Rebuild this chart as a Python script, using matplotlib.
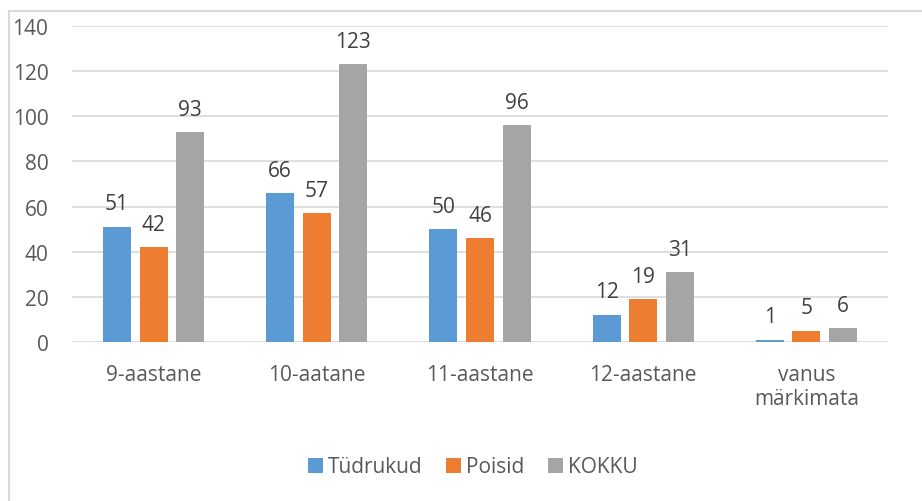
import matplotlib
matplotlib.use("Agg")
import matplotlib.pyplot as plt
from matplotlib.lines import Line2D
from matplotlib.patches import Patch
import numpy as np

categories = ["9-aastane", "10-aatane", "11-aastane", "12-aastane", "vanus\nmärkimata"]
series_names = ["Tüdrukud", "Poisid", "KOKKU"]
tudrukud = [51, 66, 50, 12, 1]
poisid = [42, 57, 46, 19, 5]
kokku = [93, 123, 96, 31, 6]
yticks = [0, 20, 40, 60, 80, 100, 120, 140]

colors = ["#5B9BD5", "#ED7D31", "#A5A5A5"]
text_color = "#595959"
plt.rcParams['font.family'] = ['Open Sans', 'DejaVu Sans']

W, H = 922, 502
fig = plt.figure(figsize=(W / 100, H / 100), dpi=100)
ax = fig.add_axes([72 / W, 1 - 343 / H, (888 - 72) / W, (343 - 27) / H])

x = np.arange(len(categories))
bw = 0.172
step = 0.224
for i, (vals, c) in enumerate(zip([tudrukud, poisid, kokku], colors)):
    pos = x + (i - 1) * step
    ax.bar(pos, vals, width=bw, color=c, zorder=3)
    for p, v in zip(pos, vals):
        ax.text(p, v + 5.5, str(v), ha="center", va="bottom", fontsize=15, color="#404040")

ax.set_xlim(-0.5, len(categories) - 0.5)
ax.set_ylim(0, 140)
ax.set_yticks(yticks)
ax.set_xticks(x)
ax.set_xticklabels(categories, fontsize=15, color=text_color, linespacing=1.2)
ax.tick_params(axis="y", labelsize=15, labelcolor=text_color, length=0, pad=17)
ax.tick_params(axis="x", length=0, pad=16)
ax.grid(axis="y", color="#D9D9D9", linewidth=1.2, zorder=0)
for s in ax.spines.values():
    s.set_visible(False)

# figure border (top and left)
fig.add_artist(Line2D([8.5 / W, 8.5 / W], [0, 1 - 12 / H], transform=fig.transFigure, color="#D9D9D9", lw=1.5))
fig.add_artist(Line2D([8.5 / W, 1], [1 - 12 / H, 1 - 12 / H], transform=fig.transFigure, color="#D9D9D9", lw=1.5))

handles = [Patch(facecolor=c, edgecolor="none") for c in colors]
fig.legend(handles, series_names, loc="center", bbox_to_anchor=(473 / W, 1 - 468 / H), ncol=3,
           frameon=False, fontsize=15, labelcolor=text_color, handlelength=0.7, handleheight=0.7,
           handletextpad=0.25, columnspacing=1.15)

fig.savefig("out.png", dpi=100)
